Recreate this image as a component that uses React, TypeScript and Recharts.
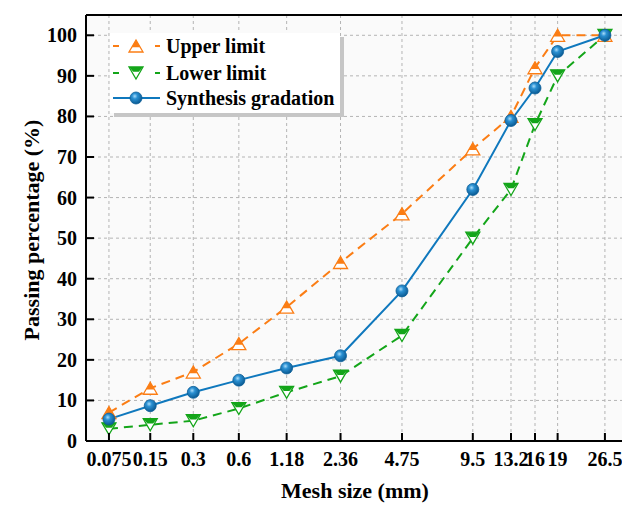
import React from "react";
import {
  CartesianGrid,
  Legend,
  Line,
  LineChart,
  ReferenceLine,
  XAxis,
  YAxis,
} from "recharts";

const sieveSizes = [0.075, 0.15, 0.3, 0.6, 1.18, 2.36, 4.75, 9.5, 13.2, 16, 19, 26.5];
const sieveLabels = ["0.075", "0.15", "0.3", "0.6", "1.18", "2.36", "4.75", "9.5", "13.2", "16", "19", "26.5"];
const upperLimit = [7, 13, 17, 24, 33, 44, 56, 72, 80, 92, 100, 100];
const lowerLimit = [3, 4, 5, 8, 12, 16, 26, 50, 62, 78, 90, 100];
const synthesis = [5.4, 8.7, 12, 15, 18, 21, 37, 62, 79, 87, 96, 100];
const passTicks = [0, 10, 20, 30, 40, 50, 60, 70, 80, 90, 100];

const FONT = "Liberation Serif, Times New Roman, serif";
const ORANGE = "#fb7d14";
const GREEN = "#13a519";
const BLUE = "#0f78bd";

const textStyle: React.CSSProperties = { fontFamily: FONT, fontWeight: 700 };

// gradation axis: log spacing stretched a little toward the coarse sieves
const sieveScale = (d: number) => Math.log(d) + 0.7 * Math.sqrt(d);
const sievePos = sieveSizes.map(sieveScale);

const data = sieveSizes.map((size, i) => ({
  size,
  pos: sievePos[i],
  upper: upperLimit[i],
  lower: lowerLimit[i],
  synth: synthesis[i],
}));

const labelFor = (v: number) => {
  let best = 0;
  sievePos.forEach((p, i) => {
    if (Math.abs(p - v) < Math.abs(sievePos[best] - v)) best = i;
  });
  return sieveLabels[best];
};

const XTick = (props: any) => {
  const { x, y, payload } = props;
  return (
    <g>
      <line x1={x} y1={y} x2={x} y2={y - 8} stroke="#000" strokeWidth={2} />
      <text x={x} y={y + 25} textAnchor="middle" style={{ ...textStyle, fontSize: 20 }} fill="#000">
        {labelFor(payload.value)}
      </text>
    </g>
  );
};

const YTick = (props: any) => {
  const { x, y, payload } = props;
  return (
    <g>
      <line x1={x} y1={y} x2={x + 8} y2={y} stroke="#000" strokeWidth={2} />
      <text x={x - 9} y={y + 7} textAnchor="end" style={{ ...textStyle, fontSize: 20 }} fill="#000">
        {payload.value}
      </text>
    </g>
  );
};

const XTitle = (props: any) => {
  const { x, y, width } = props.viewBox;
  return (
    <text x={x + width / 2 - 8} y={y + 57} textAnchor="middle" style={{ ...textStyle, fontSize: 22 }} fill="#000">
      Mesh size (mm)
    </text>
  );
};

const YTitle = (props: any) => {
  const { y, height } = props.viewBox;
  const cx = 32;
  const cy = y + height / 2 + 2;
  return (
    <text
      x={cx}
      y={cy}
      dy={7}
      transform={`rotate(-90 ${cx} ${cy})`}
      textAnchor="middle"
      style={{ ...textStyle, fontSize: 22 }}
      fill="#000"
    >
      Passing percentage (%)
    </text>
  );
};

// half-filled triangle markers and a shaded ball
const UpMark = ({ cx, cy }: { cx: number; cy: number }) => {
  const w = 14;
  const h = 12;
  return (
    <g>
      <polygon
        points={`${cx},${cy - h / 2} ${cx - w / 2},${cy + h / 2} ${cx + w / 2},${cy + h / 2}`}
        fill="#fff"
        stroke={ORANGE}
        strokeWidth={1.3}
      />
      <polygon points={`${cx},${cy - h / 2} ${cx - w * 0.3},${cy + h * 0.1} ${cx + w * 0.3},${cy + h * 0.1}`} fill={ORANGE} />
    </g>
  );
};

const DownMark = ({ cx, cy }: { cx: number; cy: number }) => {
  const w = 14;
  const h = 12;
  return (
    <g>
      <polygon
        points={`${cx - w / 2},${cy - h / 2} ${cx + w / 2},${cy - h / 2} ${cx},${cy + h / 2}`}
        fill="#fff"
        stroke={GREEN}
        strokeWidth={1.3}
      />
      <polygon
        points={`${cx - w / 2},${cy - h / 2} ${cx + w / 2},${cy - h / 2} ${cx + w * 0.2},${cy - h * 0.1} ${cx - w * 0.2},${cy - h * 0.1}`}
        fill={GREEN}
      />
    </g>
  );
};

const Ball = ({ cx, cy, id }: { cx: number; cy: number; id: string }) => (
  <g>
    <defs>
      <radialGradient id={id} cx="40%" cy="35%" r="65%">
        <stop offset="0%" stopColor="#a9dcfa" />
        <stop offset="35%" stopColor="#2a90d2" />
        <stop offset="100%" stopColor="#0a5a92" />
      </radialGradient>
    </defs>
    <circle cx={cx} cy={cy} r={6} fill={`url(#${id})`} stroke="#0b5e98" strokeWidth={0.8} />
  </g>
);

const legendRows = [
  { name: "Upper limit", color: ORANGE, kind: "up" },
  { name: "Lower limit", color: GREEN, kind: "down" },
  { name: "Synthesis gradation", color: BLUE, kind: "ball" },
];

const LegendBox = () => (
  <div style={{ width: 230, height: 80, background: "#fff", boxShadow: "4px 4px 0 #c6c6c6" }}>
    <svg width={230} height={80}>
      {legendRows.map((row, i) => {
        const y = [13, 40, 65][i];
        return (
          <g key={row.name}>
            <line
              x1={3}
              y1={y}
              x2={50}
              y2={y}
              stroke={row.color}
              strokeWidth={2}
              strokeDasharray={row.kind === "ball" ? undefined : "6 36"}
            />
            {row.kind === "up" && <UpMark cx={26} cy={y} />}
            {row.kind === "down" && <DownMark cx={26} cy={y} />}
            {row.kind === "ball" && <Ball cx={26} cy={y} id="ball-legend" />}
            <text x={56} y={y + 7} style={{ ...textStyle, fontSize: 20 }} fill="#000">
              {row.name}
            </text>
          </g>
        );
      })}
    </svg>
  </div>
);

export default function App() {
  return (
    <div
      style={{
        position: "fixed",
        left: 0,
        top: 0,
        width: 622,
        height: 507,
        overflow: "hidden",
        background: "#fff",
      }}
    >
      <LineChart width={660} height={507} data={data} margin={{ top: 15, right: 20, bottom: 0, left: 0 }}>
        <CartesianGrid stroke="#b4b4b4" strokeDasharray="3 3" fill="#fafafa" />
        <XAxis
          dataKey="pos"
          type="number"
          domain={[-2.828, 7.537]}
          allowDataOverflow
          ticks={sievePos}
          interval={0}
          height={66}
          tickSize={0}
          tickMargin={0}
          tickLine={false}
          tick={<XTick />}
          axisLine={{ stroke: "#000", strokeWidth: 2 }}
          label={<XTitle />}
        />
        <YAxis
          type="number"
          domain={[0, 105]}
          allowDataOverflow
          ticks={passTicks}
          interval={0}
          width={86}
          tickSize={0}
          tickMargin={0}
          tickLine={false}
          tick={<YTick />}
          axisLine={{ stroke: "#000", strokeWidth: 2 }}
          label={<YTitle />}
        />
        <ReferenceLine y={105} stroke="#000" strokeWidth={2} ifOverflow="visible" />
        <Legend
          layout="horizontal"
          verticalAlign="middle"
          align="center"
          content={<LegendBox />}
          wrapperStyle={{ left: 110, top: 33, width: 234, height: 84 }}
        />
        <Line
          dataKey="upper"
          name="Upper limit"
          type="linear"
          stroke={ORANGE}
          strokeWidth={2}
          strokeDasharray="9 6"
          dot={(p: any) => <UpMark key={`u-${p.index}`} cx={p.cx} cy={p.cy} />}
          activeDot={false}
          isAnimationActive={false}
        />
        <Line
          dataKey="lower"
          name="Lower limit"
          type="linear"
          stroke={GREEN}
          strokeWidth={2}
          strokeDasharray="9 6"
          dot={(p: any) => <DownMark key={`l-${p.index}`} cx={p.cx} cy={p.cy} />}
          activeDot={false}
          isAnimationActive={false}
        />
        <Line
          dataKey="synth"
          name="Synthesis gradation"
          type="linear"
          stroke={BLUE}
          strokeWidth={2}
          dot={(p: any) => <Ball key={`s-${p.index}`} cx={p.cx} cy={p.cy} id={`ball-${p.index}`} />}
          activeDot={false}
          isAnimationActive={false}
        />
      </LineChart>
    </div>
  );
}
